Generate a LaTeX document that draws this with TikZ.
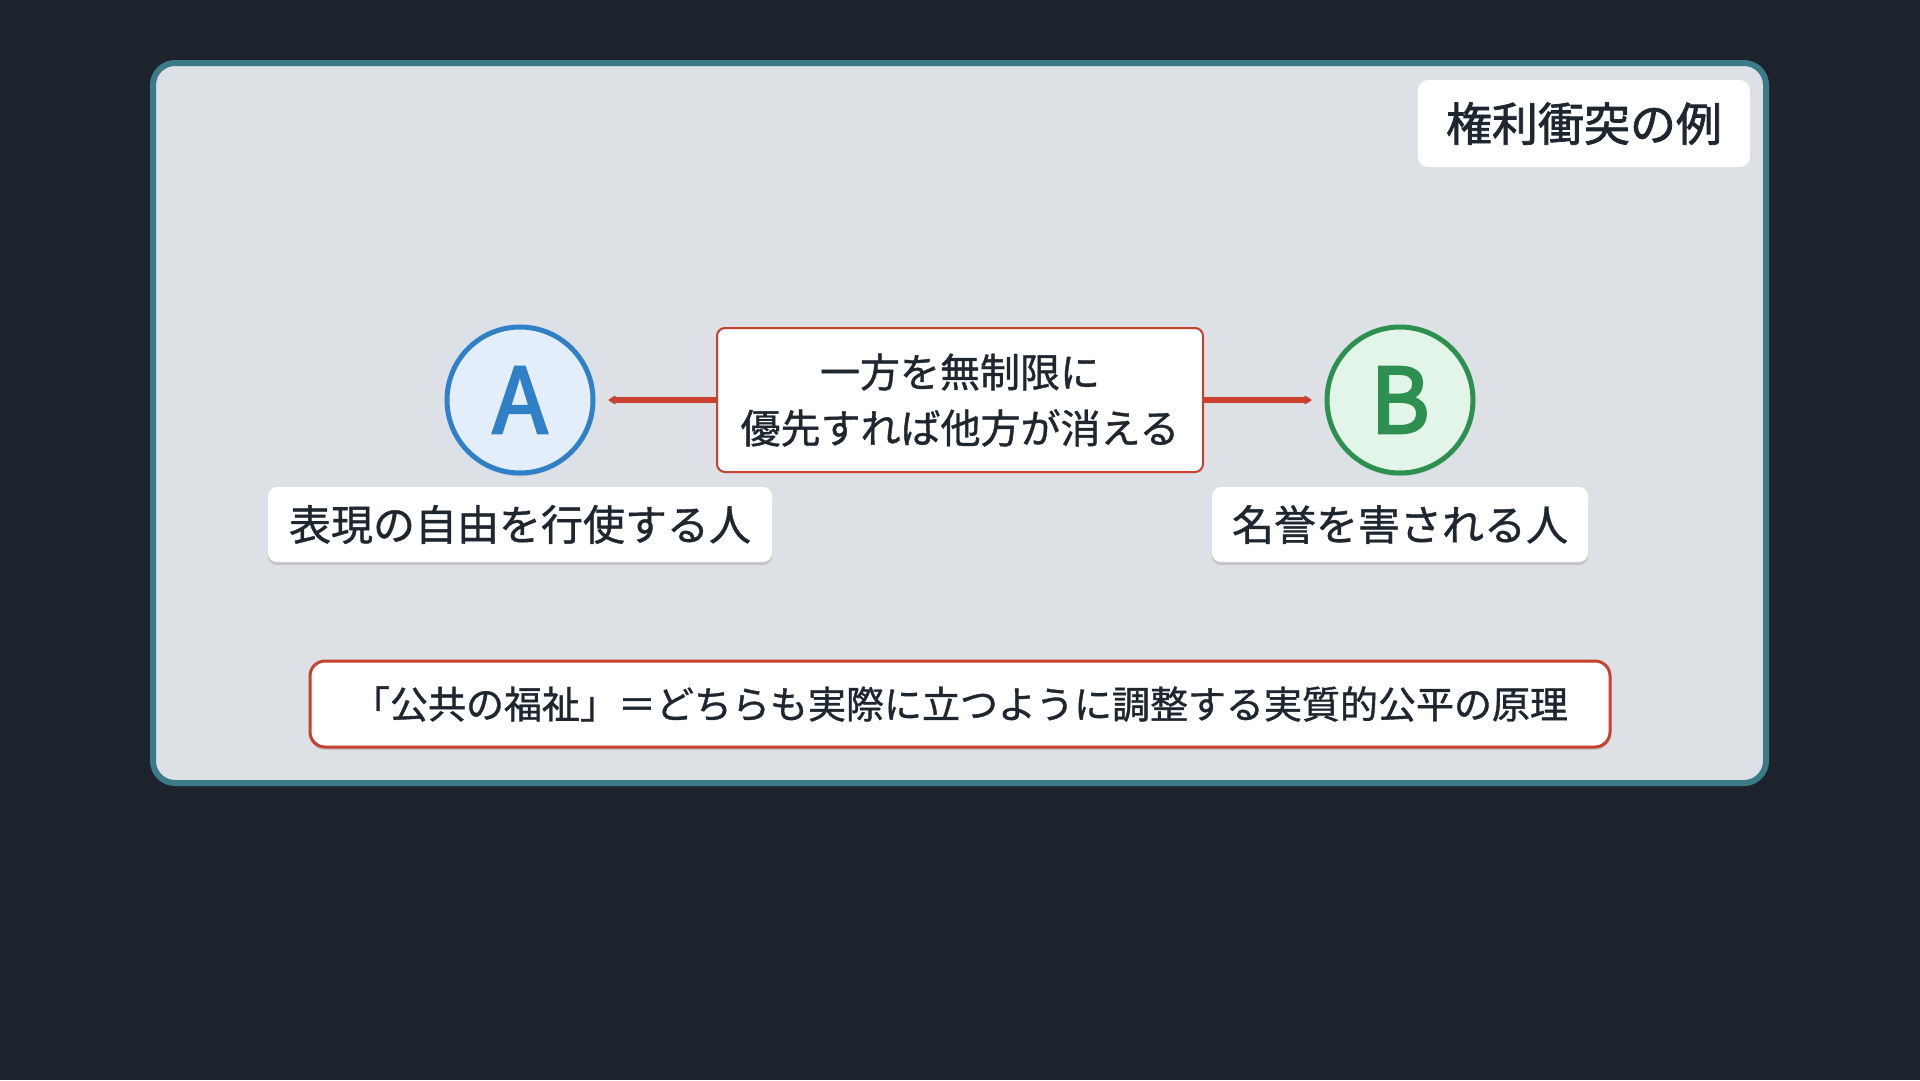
\documentclass[tikz,border=0pt]{standalone}
\usepackage{fontspec}
\setmainfont{Noto Sans CJK JP}
\newfontfamily\jpmed[FakeBold=1.0]{Noto Sans CJK JP}
\newfontfamily\jpsemi[FakeBold=1.6]{Noto Sans CJK JP}
\newfontfamily\jpletter[FakeBold=3]{Noto Sans CJK JP}
\usetikzlibrary{arrows.meta,shadows}
\definecolor{bgc}{HTML}{1D232D}
\definecolor{panelfill}{HTML}{DDE0E5}
\definecolor{panelline}{HTML}{3B7B88}
\definecolor{txt}{HTML}{1E2630}
\definecolor{redc}{HTML}{C8402E}
\definecolor{bluec}{HTML}{3080C8}
\definecolor{bluefill}{HTML}{E3EEFA}
\definecolor{greenc}{HTML}{2E9050}
\definecolor{greenfill}{HTML}{E3F4E8}
\tikzset{
  softshadow/.style={drop shadow={shadow xshift=0pt,shadow yshift=-3pt,opacity=0.12,fill=black}},
  titlebox/.style={fill=white,rounded corners=10pt,minimum width=332pt,minimum height=87pt,inner sep=0pt,text=txt,font=\jpsemi\fontsize{46}{52}\selectfont},
  circA/.style={circle,draw=bluec,fill=bluefill,line width=5pt,minimum size=146pt,inner sep=0pt,text=bluec,font=\jpletter\fontsize{90}{96}\selectfont,softshadow},
  circB/.style={circle,draw=greenc,fill=greenfill,line width=5pt,minimum size=146pt,inner sep=0pt,text=greenc,font=\jpletter\fontsize{90}{96}\selectfont,softshadow},
  midbox/.style={draw=redc,fill=white,line width=2pt,rounded corners=8pt,minimum width=486pt,minimum height=144pt,inner sep=0pt,align=center,text=txt,font=\jpmed\fontsize{40}{56}\selectfont},
  namebox/.style={fill=white,rounded corners=9pt,minimum height=75pt,inner sep=0pt,text=txt,font=\jpmed\fontsize{42}{48}\selectfont,softshadow},
  notebox/.style={draw=redc,fill=white,line width=3pt,rounded corners=15pt,minimum width=1300pt,minimum height=86pt,inner sep=0pt,text=txt,font=\jpmed\fontsize{38}{44}\selectfont,softshadow},
  conn/.style={draw=redc,line width=6pt,-{Stealth[length=9pt,width=11pt,round]}},
}
\begin{document}
\begin{tikzpicture}[x=1pt,y=-1pt]
\fill[bgc] (0,0) rectangle (1920,1080);
\useasboundingbox (0,0) rectangle (1920,1080);
\draw[draw=panelline,fill=panelfill,line width=6pt,rounded corners=22pt] (153,63) rectangle (1766,783);
\node[titlebox] (title) at (1584,123.5) {権利衝突の例};
\node[midbox] (mid) at (960,400) {一方を無制限に\\優先すれば他方が消える};
\node[circA] (A) at (520,400) {A};
\node[circB] (B) at (1400,400) {B};
\draw[conn] (mid.west) -- ([xshift=13pt]A.east);
\draw[conn] (mid.east) -- ([xshift=-13pt]B.west);
\node[namebox,minimum width=504pt] (la) at (520,524.5) {表現の自由を行使する人};
\node[namebox,minimum width=376pt] (lb) at (1400,524.5) {名誉を害される人};
\node[notebox] (note) at (960,704) {「公共の福祉」＝どちらも実際に立つように調整する実質的公平の原理};
\end{tikzpicture}
\end{document}
